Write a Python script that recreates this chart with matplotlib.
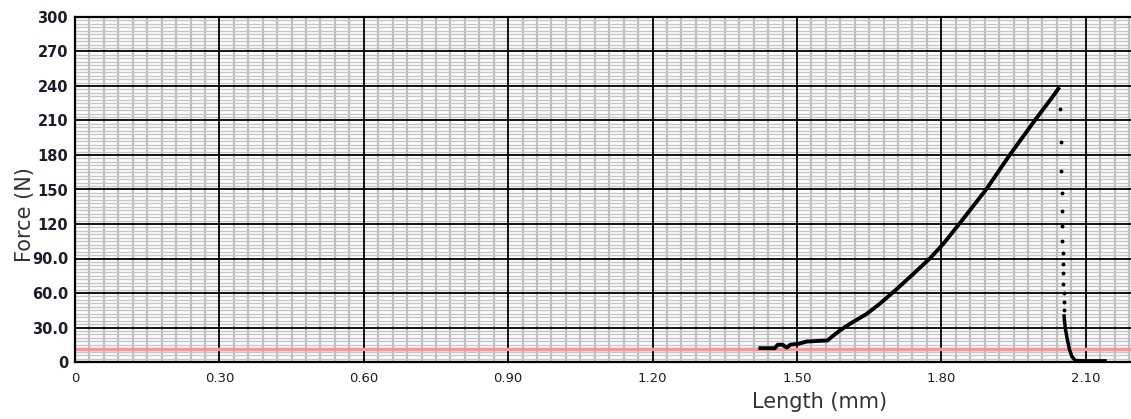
import numpy as np
import matplotlib.pyplot as plt
from matplotlib.ticker import MultipleLocator

# rising part of the curve (mm, N)
length_rise = [1.424, 1.454, 1.460, 1.470, 1.479, 1.486, 1.503, 1.520, 1.563, 1.589,
               1.610, 1.645, 1.672, 1.704, 1.742, 1.776, 1.804, 1.837, 1.893, 1.942,
               1.994, 2.030, 2.043]
force_rise = [12.0, 12.0, 15.0, 15.0, 12.5, 15.0, 15.8, 17.8, 18.7, 27.4,
              33.2, 41.9, 50.6, 62.2, 76.7, 90.0, 102.7, 120.0, 150.0, 180.0,
              210.0, 230.0, 237.6]

# sparse points during the break
length_drop = [2.047, 2.048, 2.049, 2.050, 2.050, 2.051, 2.051, 2.052, 2.052, 2.053,
               2.053, 2.054, 2.054, 2.055]
force_drop = [220.0, 191.0, 166.0, 147.0, 131.0, 118.0, 105.0, 95.0, 85.0, 77.0,
              68.0, 60.0, 52.0, 45.0]

# tail after break
length_tail = [2.055, 2.056, 2.058, 2.062, 2.066, 2.071, 2.078, 2.100, 2.140]
force_tail = [40.0, 35.0, 28.0, 19.0, 11.0, 5.0, 1.3, 1.0, 1.0]

threshold = 11.5

x_ticks = [0, 0.30, 0.60, 0.90, 1.20, 1.50, 1.80, 2.10]
x_tick_labels = ['0', '0.30', '0.60', '0.90', '1.20', '1.50', '1.80', '2.10']
y_ticks = [0, 30, 60, 90, 120, 150, 180, 210, 240, 270, 300]
y_tick_labels = ['0', '30.0', '60.0', '90.0', '120', '150', '180', '210', '240', '270', '300']

fig = plt.figure(figsize=(11.31, 4.19), dpi=100)
ax = fig.add_axes([75 / 1131, 1 - 362 / 419, 1 - 75 / 1131, (362 - 17) / 419])

ax.set_xlim(0, 2.194)
ax.set_ylim(0, 300)

# light minor grid
ax.xaxis.set_minor_locator(MultipleLocator(0.03))
ax.yaxis.set_minor_locator(MultipleLocator(3))
ax.grid(which='minor', axis='y', color='#c6c6c6', lw=1.0, zorder=0)
ax.grid(which='minor', axis='x', color='#bdbdbd', lw=1.6, zorder=0)
ax.set_axisbelow(True)

# black major grid on top of the minor one
ax.vlines(x_ticks[1:], 0, 300, color='black', lw=1.3, zorder=1)
ax.hlines(y_ticks[1:-1], 0, 2.194, color='black', lw=1.3, zorder=1)

ax.axhline(threshold, color='#f29a9a', lw=2.4, zorder=2)

ax.plot(length_rise, force_rise, color='black', lw=2.8, zorder=3)
ax.plot(length_drop, force_drop, 'o', color='black', ms=1.8, zorder=3)
ax.plot(length_tail, force_tail, color='black', lw=2.5, zorder=3)

ax.set_xticks(x_ticks)
ax.set_xticklabels(x_tick_labels, fontsize=9.5, color='#1c1c2c')
ax.set_yticks(y_ticks)
ax.set_yticklabels(y_tick_labels, fontsize=10.5, color='#1c1c2c', fontweight='bold')
ax.tick_params(which='both', length=0)
ax.tick_params(axis='y', pad=5)
ax.tick_params(axis='x', pad=7)

for s in ['left', 'top', 'bottom']:
    ax.spines[s].set_linewidth(1.6)
ax.spines['right'].set_visible(False)

fig.text(820 / 1131, 1 - 402 / 419, 'Length (mm)', fontsize=15, color='#333333',
         ha='center', va='center')
fig.text(25 / 1131, 1 - 215 / 419, 'Force (N)', fontsize=15, color='#333333',
         ha='center', va='center', rotation=90)

fig.savefig('out.png', dpi=100)
